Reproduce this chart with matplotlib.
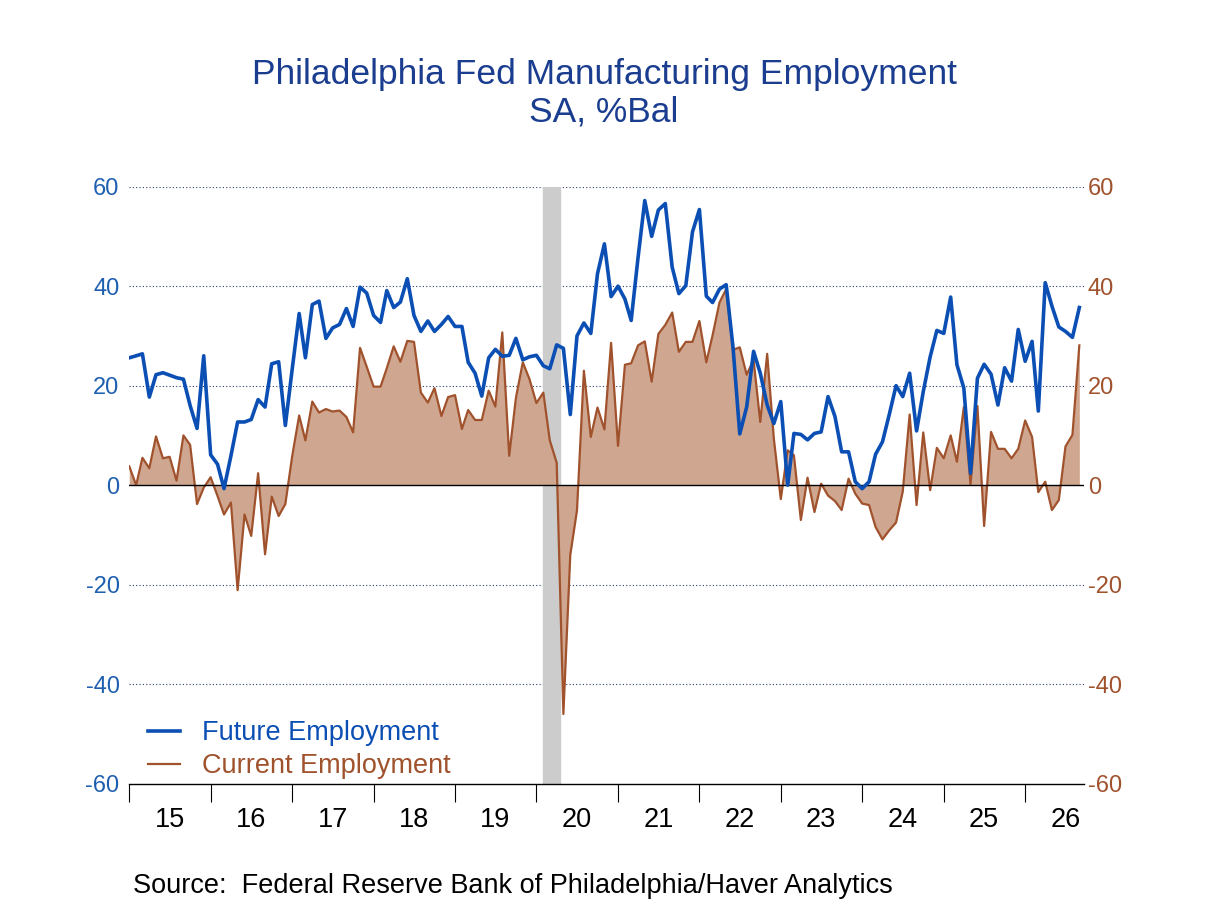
import numpy as np
import pandas as pd
import matplotlib
matplotlib.use('Agg')
import matplotlib.pyplot as plt

plt.rcParams['font.family'] = ['Liberation Sans', 'DejaVu Sans']
plt.rcParams['axes.unicode_minus'] = False

# Monthly readings, starting Jan 2015
future = [25.6, 26.0, 26.4, 17.7, 22.2, 22.6, 22.1, 21.6, 21.3, 16.0, 11.4, 26.0,
          6.1, 4.2, -0.7, 5.9, 12.7, 12.7, 13.2, 17.2, 15.7, 24.4, 24.8, 12.0,
          23.4, 34.5, 25.6, 36.3, 37.0, 29.5, 31.6, 32.3, 35.5, 31.9, 39.8, 38.6,
          34.1, 32.7, 39.1, 35.7, 36.8, 41.5, 34.1, 30.9, 33.0, 30.9, 32.3, 33.9,
          31.9, 31.9, 24.7, 22.5, 17.9, 25.6, 27.3, 25.9, 26.1, 29.5, 25.2, 25.8,
          26.1, 24.0, 23.4, 28.2, 27.5, 14.2, 30.0, 32.6, 30.5, 42.5, 48.5, 37.9,
          40.0, 37.4, 33.1, 45.8, 57.2, 50.0, 55.3, 56.6, 43.8, 38.5, 40.1, 50.9,
          55.4, 38.0, 36.7, 39.4, 40.3, 27.6, 10.3, 15.7, 26.9, 22.5, 16.1, 12.4,
          16.8, 0.0, 10.4, 10.2, 9.1, 10.4, 10.7, 17.8, 13.8, 6.7, 6.7, 0.7,
          -0.7, 0.7, 6.2, 8.7, 14.1, 20.0, 17.8, 22.5, 10.9, 18.8, 25.8, 31.1,
          30.5, 37.8, 24.2, 19.5, 2.4, 21.5, 24.3, 22.3, 16.1, 23.6, 20.9, 31.3,
          24.9, 28.9, 14.9, 40.7, 36.0, 31.8, 30.9, 29.7, 35.7]
current = [3.8, 0.0, 5.5, 3.4, 9.8, 5.4, 5.7, 0.9, 10.0, 8.1, -3.8, -0.5,
           1.6, -2.2, -5.9, -3.5, -21.1, -5.9, -10.2, 2.4, -13.9, -2.3, -6.2, -3.8,
           5.9, 14.0, 9.0, 16.8, 14.6, 15.3, 14.8, 15.0, 13.7, 10.6, 27.6, 23.8,
           19.8, 19.8, 23.5, 27.9, 24.8, 29.0, 28.8, 18.6, 16.6, 19.5, 13.9, 17.7,
           18.1, 11.3, 15.1, 13.1, 13.1, 19.0, 15.8, 30.7, 5.9, 17.5, 24.7, 21.3,
           16.5, 18.6, 9.0, 4.5, -46.0, -14.0, -5.1, 23.0, 9.7, 15.6, 11.2, 28.6,
           7.9, 24.2, 24.5, 28.1, 28.9, 20.8, 30.4, 32.2, 34.7, 26.8, 28.8, 28.8,
           33.0, 24.7, 30.1, 36.7, 39.4, 27.2, 27.7, 22.2, 25.2, 12.7, 26.4, 9.3,
           -2.8, 7.0, 6.0, -7.0, 1.5, -5.4, 0.3, -2.1, -3.2, -5.0, 1.3, -1.7,
           -3.7, -4.0, -8.4, -10.9, -9.1, -7.5, -1.3, 14.2, -4.0, 10.6, -1.0, 7.5,
           5.4, 10.0, 4.7, 15.7, 0.2, 15.9, -8.2, 10.7, 7.3, 7.3, 5.4, 7.3,
           13.0, 9.7, -1.4, 0.7, -5.0, -3.0, 7.8, 10.1, 28.1]
dates = pd.date_range('2015-01-01', periods=len(future), freq='MS')
years = list(range(2015, 2027))
year_labels = [str(y)[2:] for y in years]

blue = '#0b4fb4'
brown = '#a0522d'
fill = '#cfa68f'

fig = plt.figure(figsize=(12.08, 9.06), dpi=100)
ax = fig.add_axes([0.107, 0.135, 0.79, 0.659])

ax.axvspan(pd.Timestamp('2020-02-01'), pd.Timestamp('2020-04-15'), color='#cccccc', zorder=1)
ax.fill_between(dates, current, 0, color=fill, linewidth=0, zorder=2)
ax.plot(dates, current, color=brown, lw=1.6, zorder=3, label='Current Employment')
ax.plot(dates, future, color=blue, lw=2.6, zorder=4, label='Future Employment')
ax.axhline(0, color='black', lw=1.0, zorder=3)

ax.set_ylim(-60, 60)
ax.set_xlim(pd.Timestamp('2015-01-01'), pd.Timestamp('2026-09-20'))
ax.set_yticks([-60, -40, -20, 0, 20, 40, 60])
for v in [-40, -20, 20, 40, 60]:
    ax.axhline(v, color='#2b3f6b', lw=0.8, ls=(0, (1, 2)), zorder=0)

for s in ['top', 'left', 'right']:
    ax.spines[s].set_visible(False)
ax.spines['bottom'].set_linewidth(1.0)

ax.tick_params(axis='y', length=0, labelsize=17, labelcolor='#1f5fb0', pad=7)
ax2 = ax.twinx()
ax2.set_ylim(-60, 60)
ax2.set_yticks([-60, -40, -20, 0, 20, 40, 60])
for s in ['top', 'left', 'right', 'bottom']:
    ax2.spines[s].set_visible(False)
ax2.tick_params(axis='y', length=0, labelsize=17, labelcolor=brown, pad=3)

ax.set_xticks([pd.Timestamp(f'{y}-01-01') for y in years])
ax.set_xticklabels([])
ax.tick_params(axis='x', length=13, width=0.8, direction='out')
ax.set_xticks([pd.Timestamp(f'{y}-07-01') for y in years], minor=True)
ax.set_xticklabels(year_labels, minor=True, fontsize=19.5)
ax.tick_params(axis='x', which='minor', length=0, pad=17)

h, l = ax.get_legend_handles_labels()
leg = ax.legend(h[::-1], l[::-1], loc='lower left', bbox_to_anchor=(0.005, -0.015), frameon=False,
                fontsize=19.5, handlelength=1.2, borderaxespad=0.1, labelspacing=0.25)
for t, c in zip(leg.get_texts(), [blue, brown]):
    t.set_color(c)

fig.text(0.5, 0.897, 'Philadelphia Fed Manufacturing Employment\nSA, %Bal', ha='center', va='center',
         fontsize=25.5, color='#1a3d8f', linespacing=1.2)
fig.text(0.11, 0.008, 'Source:  Federal Reserve Bank of Philadelphia/Haver Analytics', fontsize=19.5,
         color='black', va='bottom')

fig.savefig('out.png', dpi=100)
